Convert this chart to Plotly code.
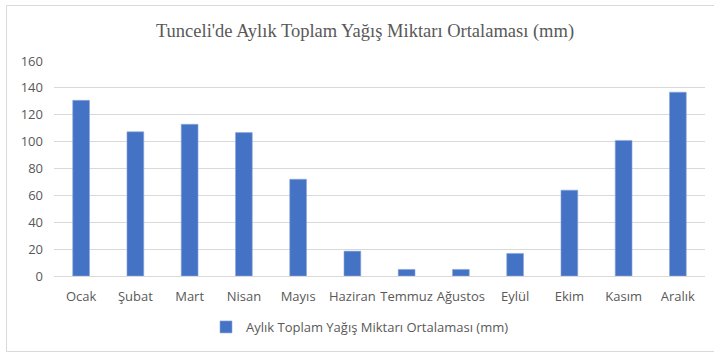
import plotly.graph_objects as go

# Monthly average total precipitation for Tunceli (mm)
months = ["Ocak", "Şubat", "Mart", "Nisan", "Mayıs", "Haziran",
          "Temmuz", "Ağustos", "Eylül", "Ekim", "Kasım", "Aralık"]
rainfall = [130.7, 107.3, 112.9, 106.7, 72.0, 18.5,
            4.9, 4.9, 16.8, 63.9, 100.9, 136.8]
y_ticks = [0, 20, 40, 60, 80, 100, 120, 140, 160]

series_name = "Aylık Toplam Yağış Miktarı Ortalaması (mm)"
title_text = "Tunceli'de Aylık Toplam Yağış Miktarı Ortalaması (mm)"

W, H = 714, 352
ML, MR, MT, MB = 54, 9, 61, 76
pw, ph = W - ML - MR, H - MT - MB

def px_x(x):
    return (x - ML) / pw

def px_y(y):
    return (H - MB - y) / ph

fig = go.Figure()
fig.add_trace(go.Bar(
    x=months, y=rainfall, name=series_name,
    marker=dict(color="#4472C4", line=dict(color="#8faadc", width=0.6)),
    showlegend=True,
))

fig.update_layout(
    width=W, height=H,
    margin=dict(l=ML, r=MR, t=MT, b=MB),
    paper_bgcolor="white", plot_bgcolor="white",
    bargap=0.69,
    font=dict(family="Open Sans, Liberation Sans, sans-serif", size=12, color="#595959"),
    title=dict(text=title_text, x=365 / W, xanchor="center", y=1 - 31 / H, yanchor="middle",
               font=dict(family="Liberation Serif, serif", size=18.5, color="#595959")),
    showlegend=True,
    legend=dict(orientation="h", x=px_x(360), xanchor="center", y=px_y(327), yanchor="middle",
                itemwidth=30, font=dict(size=13, color="#595959"), bgcolor="rgba(0,0,0,0)"),
    xaxis=dict(showgrid=False, showline=True, linecolor="#d9d9d9", linewidth=1,
               ticks="", ticklabelstandoff=8, tickfont=dict(size=13)),
    yaxis=dict(range=[0, 160], tickvals=y_ticks, showgrid=True, gridcolor="#d9d9d9",
               gridwidth=1, zeroline=False, showline=False, ticks="",
               ticklabelstandoff=10, tickfont=dict(size=13)),
)

# chart area frame
fig.add_shape(type="rect", xref="paper", yref="paper",
              x0=px_x(6.5), x1=px_x(716), y0=px_y(351.5), y1=px_y(5.5),
              line=dict(color="#d9d9d9", width=1), fillcolor="rgba(0,0,0,0)", layer="below")

fig.write_html("out.html")
